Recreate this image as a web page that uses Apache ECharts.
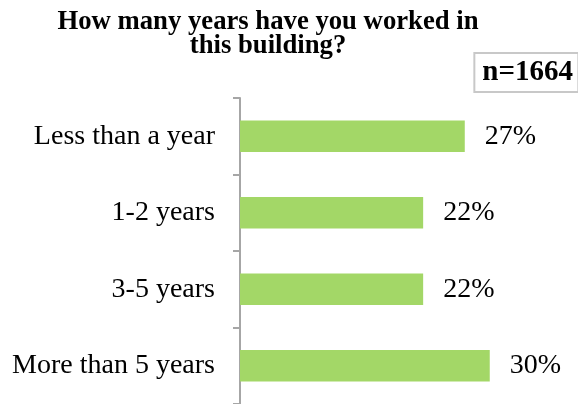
<!DOCTYPE html>
<html>
<head>
<meta charset="utf-8">
<script src="https://cdn.jsdelivr.net/npm/echarts@6/dist/echarts.min.js"></script>
<style>
  html, body { margin: 0; padding: 0; background: #fff; }
  #chart { width: 578px; height: 404px; }
</style>
</head>
<body>
<div id="chart"></div>
<script>
// survey answers, top to bottom
const categories = ['Less than a year', '1-2 years', '3-5 years', 'More than 5 years'];
const percents = [27, 22, 22, 30];
const sampleSize = 'n=1664';

const serif = '"Liberation Serif", "DejaVu Serif", serif';

var myChart = echarts.init(document.getElementById('chart'));

myChart.setOption({
  animation: false,
  title: [
    {
      text: 'How many years have you worked in\nthis building?',
      left: 263,
      textAlign: 'center',
      top: 5,
      textStyle: {
        fontFamily: serif,
        fontWeight: 'bold',
        fontSize: 26.7,
        lineHeight: 24,
        color: '#000'
      }
    },
    {
      text: sampleSize,
      right: -1,
      top: 53,
      borderColor: '#c8c8c8',
      borderWidth: 2,
      padding: [5, 6, 5, 8],
      textStyle: {
        fontFamily: serif,
        fontWeight: 'bold',
        fontSize: 29,
        color: '#000'
      }
    }
  ],
  grid: {
    left: 240,
    top: 98,
    width: 333,
    bottom: 0,
    containLabel: false
  },
  xAxis: {
    type: 'value',
    min: 0,
    max: 40,
    show: false
  },
  yAxis: {
    type: 'category',
    data: categories,
    inverse: true,
    axisLine: { show: true, lineStyle: { color: '#a6a6a6', width: 2 } },
    axisTick: { show: true, length: 7, lineStyle: { color: '#a6a6a6', width: 2 } },
    axisLabel: {
      margin: 25,
      fontFamily: serif,
      fontSize: 28,
      color: '#000'
    }
  },
  series: [
    {
      type: 'bar',
      data: percents,
      barCategoryGap: '59%',
      itemStyle: { color: '#a3d767' },
      label: {
        show: true,
        position: 'right',
        distance: 20,
        formatter: '{c}%',
        fontFamily: serif,
        fontSize: 28,
        color: '#000'
      }
    }
  ]
});
</script>
</body>
</html>
